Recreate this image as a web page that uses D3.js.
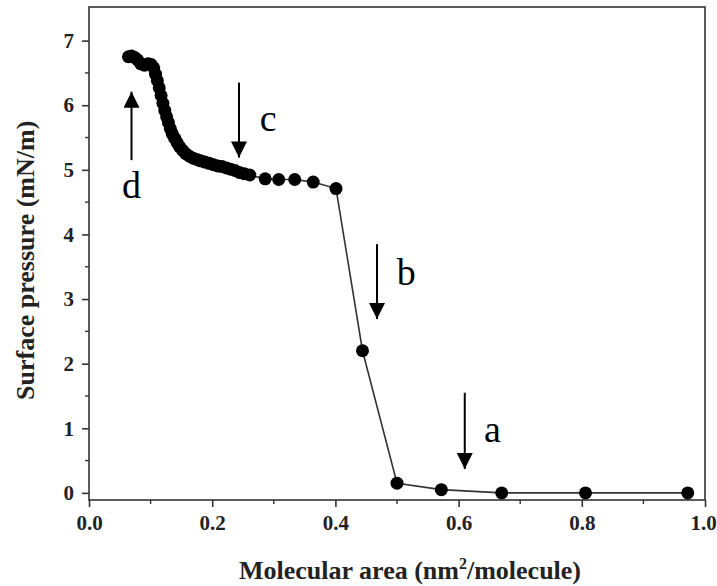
<!DOCTYPE html>
<html>
<head>
<meta charset="utf-8">
<script src="https://cdn.jsdelivr.net/npm/d3@7"></script>
<style>
  body { margin: 0; background: #fff; }
  svg text { font-family: "Liberation Serif", "Times New Roman", serif; }
</style>
</head>
<body>
<div class="chart"></div>
<script>
const width = 717;
const height = 586;
const margin = { left: 89, right: 12, top: 7, bottom: 86 };

// molecular area (nm2/molecule)
const area = [
    0.064, 0.069, 0.074, 0.079, 0.084, 0.090, 0.096, 0.101, 0.105, 0.108,
    0.111, 0.114, 0.117, 0.120, 0.123, 0.126, 0.129, 0.132, 0.135, 0.139,
    0.143, 0.147, 0.152, 0.157, 0.163, 0.169, 0.175, 0.181, 0.188, 0.195,
    0.202, 0.209, 0.216, 0.223, 0.230, 0.237, 0.244, 0.252, 0.261, 0.286,
    0.308, 0.334, 0.364, 0.401, 0.444, 0.500, 0.572, 0.670, 0.806, 0.972
];
// surface pressure (mN/m)
const pressure = [
    6.75, 6.76, 6.74, 6.70, 6.64, 6.62, 6.64, 6.63, 6.58, 6.48,
    6.38, 6.27, 6.15, 6.03, 5.92, 5.82, 5.73, 5.64, 5.56, 5.49,
    5.42, 5.36, 5.30, 5.25, 5.21, 5.18, 5.16, 5.14, 5.12, 5.10,
    5.08, 5.06, 5.05, 5.03, 5.01, 4.99, 4.96, 4.94, 4.92, 4.86,
    4.85, 4.85, 4.81, 4.71, 2.20, 0.15, 0.05, 0.00, 0.00, 0.00
];

const xTicks = [0, 0.2, 0.4, 0.6, 0.8, 1.0];
const xMinor = [0.1, 0.3, 0.5, 0.7, 0.9];
const yTicks = [0, 1, 2, 3, 4, 5, 6, 7];
const yMinor = [0.5, 1.5, 2.5, 3.5, 4.5, 5.5, 6.5];

// arrows: x, from y, to y (tip), label position
const arrowName = ["a", "b", "c", "d"];
const arrowX = [0.610, 0.4675, 0.2435, 0.069];
const arrowFrom = [1.55, 3.85, 6.35, 5.15];
const arrowTo = [0.37, 2.69, 5.19, 6.21];
const labelX = [0.655, 0.515, 0.291, 0.069];
const labelY = [0.99, 3.42, 5.80, 4.77];

const data = area.map((a, i) => ({ x: a, y: pressure[i] }));

const svg = d3.select(".chart")
    .append("svg")
    .attr("width", width)
    .attr("height", height);

const xScale = d3.scaleLinear()
    .domain([0, 1])
    .range([margin.left, width - margin.right]);
const yScale = d3.scaleLinear()
    .domain([-0.11, 7.52])
    .range([height - margin.bottom, margin.top]);

const axisColor = "#333";
const y0 = height - margin.bottom;
const x0 = margin.left;

// frame
svg.append("rect")
    .attr("x", x0)
    .attr("y", margin.top)
    .attr("width", width - margin.right - x0)
    .attr("height", y0 - margin.top)
    .attr("fill", "none")
    .attr("stroke", axisColor)
    .attr("stroke-width", 1.6);

// x axis
const xAxis = d3.axisBottom(xScale)
    .tickValues(xTicks)
    .tickFormat(d3.format(".1f"))
    .tickSize(7)
    .tickPadding(8);
const gx = svg.append("g")
    .attr("transform", "translate(0," + y0 + ")")
    .call(xAxis);
gx.select(".domain").remove();
gx.selectAll("line").attr("stroke", axisColor).attr("stroke-width", 1.6);
gx.selectAll("text")
    .attr("font-size", 21)
    .attr("font-weight", "bold")
    .attr("fill", "#222")
    .attr("dx", (d) => (d === 1 ? -2 : 0))
    .style("font-family", "'Liberation Serif', serif");

svg.append("g")
    .selectAll("line")
    .data(xMinor)
    .enter()
    .append("line")
    .attr("x1", (d) => xScale(d))
    .attr("x2", (d) => xScale(d))
    .attr("y1", y0)
    .attr("y2", y0 + 4)
    .attr("stroke", axisColor)
    .attr("stroke-width", 1.4);

// y axis
const yAxis = d3.axisLeft(yScale)
    .tickValues(yTicks)
    .tickFormat(d3.format("d"))
    .tickSize(7)
    .tickPadding(8);
const gy = svg.append("g")
    .attr("transform", "translate(" + x0 + ",0)")
    .call(yAxis);
gy.select(".domain").remove();
gy.selectAll("line").attr("stroke", axisColor).attr("stroke-width", 1.6);
gy.selectAll("text")
    .attr("font-size", 21)
    .attr("font-weight", "bold")
    .attr("fill", "#222")
    .style("font-family", "'Liberation Serif', serif");

svg.append("g")
    .selectAll("line")
    .data(yMinor)
    .enter()
    .append("line")
    .attr("x1", x0 - 4)
    .attr("x2", x0)
    .attr("y1", (d) => yScale(d))
    .attr("y2", (d) => yScale(d))
    .attr("stroke", axisColor)
    .attr("stroke-width", 1.4);

// axis titles
const xTitle = svg.append("text")
    .attr("x", 410)
    .attr("y", 579)
    .attr("text-anchor", "middle")
    .attr("font-size", 26)
    .attr("font-weight", "bold")
    .attr("fill", "#222");
xTitle.append("tspan").text("Molecular area (nm");
xTitle.append("tspan").text("2").attr("font-size", 16).attr("dy", -10);
xTitle.append("tspan").text("/molecule)").attr("dy", 10);

svg.append("text")
    .text("Surface pressure (mN/m)")
    .attr("text-anchor", "middle")
    .attr("transform", "translate(34," + yScale(3.6) + ") rotate(-90)")
    .attr("font-size", 26)
    .attr("font-weight", "bold")
    .attr("fill", "#222");

// line + points
const line = d3.line()
    .x((d) => xScale(d.x))
    .y((d) => yScale(d.y));
svg.append("path")
    .datum(data)
    .attr("d", line)
    .attr("fill", "none")
    .attr("stroke", "#333")
    .attr("stroke-width", 1.6);
svg.append("g")
    .selectAll("circle")
    .data(data)
    .enter()
    .append("circle")
    .attr("cx", (d) => xScale(d.x))
    .attr("cy", (d) => yScale(d.y))
    .attr("r", 6.5)
    .attr("fill", "#000");

// arrows
svg.append("defs")
    .append("marker")
    .attr("id", "head")
    .attr("viewBox", "0 0 10 10")
    .attr("refX", 10)
    .attr("refY", 5)
    .attr("markerWidth", 17)
    .attr("markerHeight", 16)
    .attr("markerUnits", "userSpaceOnUse")
    .attr("orient", "auto")
    .append("path")
    .attr("d", "M0,0 L10,5 L0,10 Z")
    .attr("fill", "#000");

const arrows = arrowName.map((n, i) => ({
    name: n, x: arrowX[i], from: arrowFrom[i], to: arrowTo[i],
    lx: labelX[i], ly: labelY[i]
}));
svg.append("g")
    .selectAll("line")
    .data(arrows)
    .enter()
    .append("line")
    .attr("x1", (d) => xScale(d.x))
    .attr("x2", (d) => xScale(d.x))
    .attr("y1", (d) => yScale(d.from))
    .attr("y2", (d) => yScale(d.to))
    .attr("stroke", "#000")
    .attr("stroke-width", 2)
    .attr("marker-end", "url(#head)");
svg.append("g")
    .selectAll("text")
    .data(arrows)
    .enter()
    .append("text")
    .text((d) => d.name)
    .attr("x", (d) => xScale(d.lx))
    .attr("y", (d) => yScale(d.ly))
    .attr("dy", "0.35em")
    .attr("text-anchor", "middle")
    .attr("font-size", 38)
    .attr("fill", "#000");
</script>
</body>
</html>
